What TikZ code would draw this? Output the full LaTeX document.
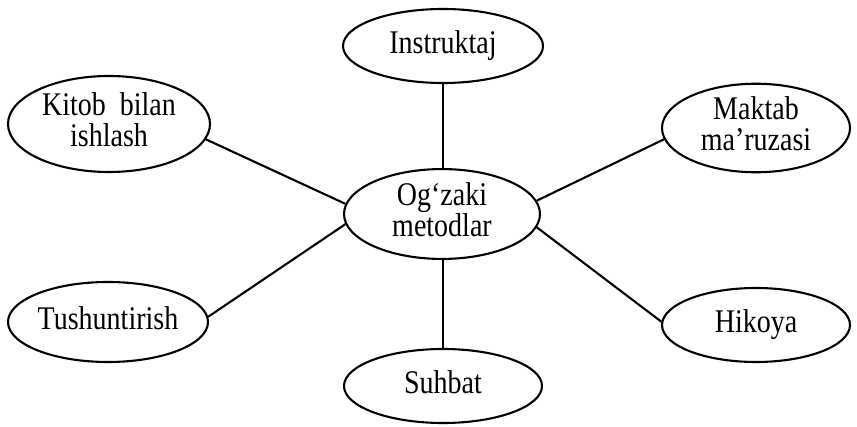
\documentclass[tikz,border=0pt]{standalone}
\usepackage{fontspec}
\setmainfont{Liberation Serif}
\usetikzlibrary{shapes.geometric}
\newcommand{\tallText}[1]{\scalebox{1}[1.18]{\begin{tabular}{@{}c@{}}#1\end{tabular}}}
\begin{document}
\begin{tikzpicture}[x=1pt,y=-1pt,
  oval/.style={draw,ellipse,line width=2.1pt,inner sep=0pt,
    font=\fontsize{28}{25}\selectfont},
  link/.style={line width=2.1pt}]
\useasboundingbox (0,0) rectangle (857,427);
\node[oval,minimum width=200pt,minimum height=74pt] (ins) at (443,46) {\tallText{Instruktaj}};
\node[oval,minimum width=202pt,minimum height=96pt] (kit) at (109,124) {\tallText{Kitob\ \ bilan\\ishlash}};
\node[oval,minimum width=188pt,minimum height=88pt] (mak) at (756,128) {\tallText{Maktab\\ma’ruzasi}};
\node[oval,minimum width=196pt,minimum height=78pt] (cen) at (442,214) {\tallText{Og‘zaki\\metodlar}};
\node[oval,minimum width=200pt,minimum height=80pt] (tus) at (108,322) {\tallText{Tushuntirish}};
\node[oval,minimum width=188pt,minimum height=74pt] (hik) at (756,325) {\tallText{Hikoya}};
\node[oval,minimum width=198pt,minimum height=74pt] (suh) at (443,386) {\tallText{Suhbat}};
\draw[link] (ins.south) -- (ins.south |- cen.north);
\draw[link] (suh.north |- cen.south) -- (suh.north);
\draw[link] (kit.-9) -- (cen.174);
\draw[link] (tus.3) -- (cen.186);
\draw[link] (mak.187) -- (cen.8);
\draw[link] (hik.178) -- (cen.-8);
\end{tikzpicture}
\end{document}
